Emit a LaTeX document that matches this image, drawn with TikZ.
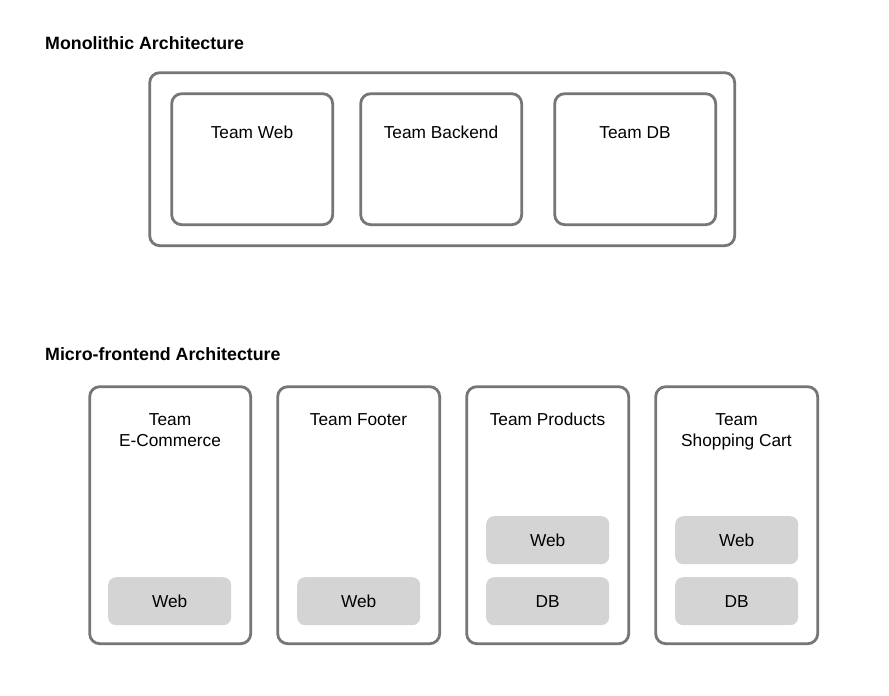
\documentclass[tikz,border=0pt]{standalone}
\usepackage{fontspec}
\setmainfont{Liberation Sans}
\definecolor{bordergray}{HTML}{767676}
\definecolor{partgray}{HTML}{D4D4D4}
\begin{document}
\begin{tikzpicture}[x=1pt,y=-1pt,
  outerbox/.style={draw=bordergray, line width=2.8pt, rounded corners=10pt, fill=white, inner sep=0pt, anchor=north west},
  teambox/.style={draw=bordergray, line width=2.8pt, rounded corners=10pt, fill=white, inner sep=0pt, anchor=north west},
  partbox/.style={fill=partgray, rounded corners=8pt, inner sep=0pt, minimum width=123pt, minimum height=48pt, anchor=north west, font=\fontsize{17.3}{20}\selectfont},
  lbl/.style={font=\fontsize{17.3}{21}\selectfont, align=center, text=black, inner sep=0pt},
  ttl/.style={font=\bfseries\fontsize{17.8}{20}\selectfont, anchor=west, inner sep=0pt}
]
\useasboundingbox (0,0) rectangle (889,696);
\fill[white] (0,0) rectangle (889,696);

% Monolithic
\node[ttl] (t1) at (45,43) {Monolithic Architecture};
\node[outerbox, minimum width=585pt, minimum height=173pt] (mono) at (148.3,71.3) {};
\node[teambox, minimum width=161pt, minimum height=131pt] (tweb) at (170.3,92.3) {};
\node[teambox, minimum width=161pt, minimum height=131pt] (tback) at (359.3,92.3) {};
\node[teambox, minimum width=161pt, minimum height=131pt] (tdb) at (553.3,92.3) {};
\node[lbl] (ltweb) at (252,132.5) {Team Web};
\node[lbl] (ltback) at (441,132.5) {Team Backend};
\node[lbl] (ltdb) at (635,132.5) {Team DB};

% Micro-frontend
\node[ttl] (t2) at (45,354) {Micro-frontend Architecture};
\node[teambox, minimum width=161pt, minimum height=257pt] (cEC) at (88.3,385.3) {};
\node[teambox, minimum width=162pt, minimum height=257pt] (cFoot) at (276.3,385.3) {};
\node[teambox, minimum width=162pt, minimum height=257pt] (cProd) at (465.3,385.3) {};
\node[teambox, minimum width=162pt, minimum height=257pt] (cCart) at (654.3,385.3) {};

\node[lbl] (lEC) at (170,430) {Team\\E-Commerce};
\node[lbl] (lFoot) at (358.5,419.5) {Team Footer};
\node[lbl] (lProd) at (547.5,419.5) {Team Products};
\node[lbl] (lCart) at (736.5,432) {Team\\Shopping Cart};

\node[partbox] (ecWeb) at (108,577) {Web};
\node[partbox] (footWeb) at (297,577) {Web};
\node[partbox] (prodWeb) at (486,516) {Web};
\node[partbox] (prodDB) at (486,577) {DB};
\node[partbox] (cartWeb) at (675,516) {Web};
\node[partbox] (cartDB) at (675,577) {DB};
\end{tikzpicture}
\end{document}
